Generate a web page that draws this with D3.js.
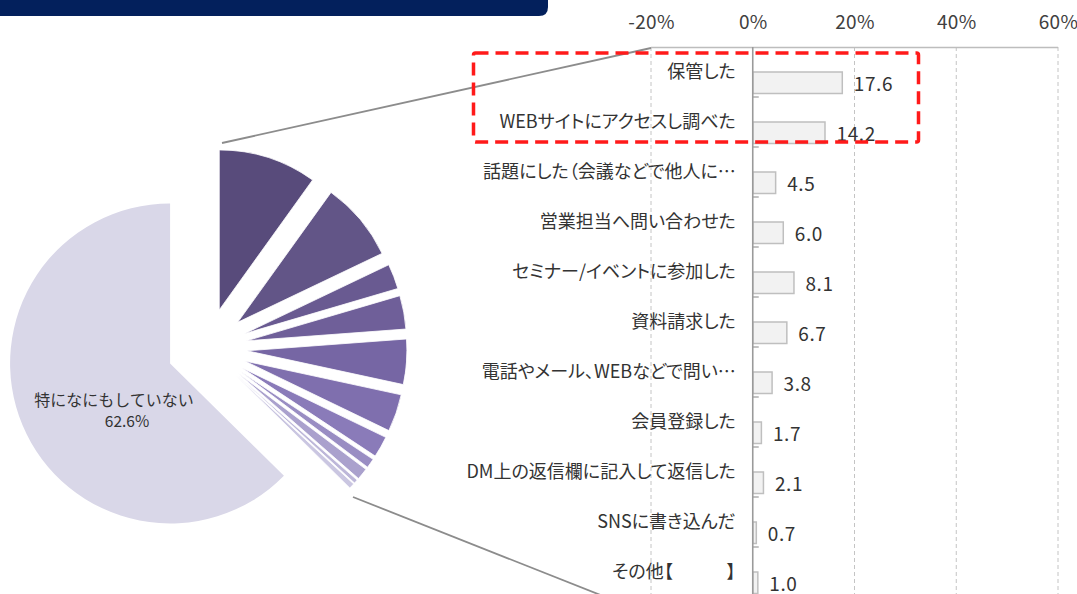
<!DOCTYPE html>
<html><head><meta charset="utf-8">
<script src="https://cdn.jsdelivr.net/npm/d3@7"></script>
<style>
html,body{margin:0;padding:0;background:#fff;}
svg{display:block;font-family:"Noto Sans CJK JP","Noto Sans",sans-serif;}
</style></head>
<body>
<svg id="chart" width="1077" height="594"></svg>
<script>
// ---- data ----
const categories = ["保管した","WEBサイトにアクセスし調べた","話題にした（会議などで他人に…","営業担当へ問い合わせた","セミナー/イベントに参加した","資料請求した","電話やメール、WEBなどで問い…","会員登録した","DM上の返信欄に記入して返信した","SNSに書き込んだ","その他【　　　】"];
const values = [17.6,14.2,4.5,6.0,8.1,6.7,3.8,1.7,2.1,0.7,1.0];
const noneLabel = "特になにもしていない";
const noneValue = 62.6;
const xTicks = [-20,0,20,40,60];
const sliceColors = ["#584b7b","#625587","#695a91","#6f5f99","#7666a4","#7f6fae","#8a7bb9","#998dc3","#aaa1cd","#bdb7d9","#cac6e1"];
const noneColor = "#d9d7e8";

const svg = d3.select("#chart");

// header band
svg.append("path")
  .attr("d","M0,-10 H548 V7 Q548,16 539,16 H0 Z")
  .attr("fill","#03205c");

// ---- bar chart ----
const x = d3.scaleLinear().domain([-20,60]).range([651,1058]);
const y = d3.scaleBand().domain(categories).range([47,597]).paddingInner(0).paddingOuter(0);

// gridlines
svg.append("g").selectAll("line").data(xTicks.filter(d=>d!==0)).join("line")
  .attr("x1",d=>x(d)).attr("x2",d=>x(d)).attr("y1",47).attr("y2",600)
  .attr("stroke","#c4c4c4").attr("stroke-width",1).attr("stroke-dasharray","4,3");
// top border
svg.append("line").attr("x1",x(-20)).attr("x2",x(60)).attr("y1",47.5).attr("y2",47.5)
  .attr("stroke","#bdbdbd").attr("stroke-width",1.5);

// top axis tick labels
const xAxis = svg.append("g").attr("transform","translate(0,47)")
  .call(d3.axisTop(x).tickValues(xTicks).tickSize(0).tickPadding(18).tickFormat(d=>d+"%"));
xAxis.select(".domain").remove();
xAxis.selectAll("text").attr("font-size",19).attr("letter-spacing","0.3px").attr("fill","#404040")
  .attr("font-family","'Noto Sans CJK JP','Noto Sans',sans-serif");

// bars
const barOff = 25, barH = 21.5;
svg.append("g").selectAll("rect").data(values).join("rect")
  .attr("x",x(0)).attr("y",(d,i)=>y(categories[i])+barOff)
  .attr("width",d=>x(d)-x(0)).attr("height",barH)
  .attr("fill","#f2f2f2").attr("stroke","#bfbfbf").attr("stroke-width",1.5);

// category axis (0% line)
const yAxis = svg.append("g").attr("transform",`translate(${x(0)},0)`)
  .call(d3.axisLeft(y).tickSize(0).tickSizeOuter(0).tickPadding(17));
yAxis.select(".domain").attr("stroke","#9a9a9a").attr("stroke-width",1.6).attr("d",`M0,47V600`);
yAxis.selectAll("text").attr("font-size",18).attr("fill","#333")
  .style("font-feature-settings","'palt' 1")
  .attr("font-family","'Noto Sans CJK JP',sans-serif");

// category tick marks
svg.append("g").selectAll("line").data(categories).join("line")
  .attr("x1",x(0)).attr("x2",x(0)+6)
  .attr("y1",d=>y(d)+y.bandwidth()).attr("y2",d=>y(d)+y.bandwidth())
  .attr("stroke","#9a9a9a").attr("stroke-width",1.2);

// value labels
svg.append("g").selectAll("text").data(values).join("text")
  .attr("x",d=>x(d)+11.5).attr("y",(d,i)=>y(categories[i])+barOff+barH/2+1)
  .attr("dy","0.36em").attr("font-size",19).attr("letter-spacing","0.6px").attr("fill","#333")
  .attr("font-family","'Noto Sans CJK JP',sans-serif")
  .text(d=>d.toFixed(1));

// ---- pie ----
const cx = 207, cy = 348, R = 160, explode = 40;
const sum = d3.sum(values);
const pieData = values.map((v,i)=>({v: v*(100-noneValue)/sum, color: sliceColors[i]}))
  .concat([{v: noneValue, color: noneColor, none:true}]);
const arcs = d3.pie().sort(null).value(d=>d.v).startAngle(0).endAngle(2*Math.PI)(pieData);
const arc = d3.arc().innerRadius(0).outerRadius(R);
const pg = svg.append("g").attr("transform",`translate(${cx},${cy})`);
pg.selectAll("path").data(arcs).join("path")
  .attr("transform",d=>{const m=(d.startAngle+d.endAngle)/2; return `translate(${Math.sin(m)*explode},${-Math.cos(m)*explode})`;})
  .attr("d",arc).attr("fill",d=>d.data.color)
  .attr("stroke","#fff").attr("stroke-width",d=>d.data.none?0:0.8);

// pie label
svg.append("text").attr("x",114).attr("y",400).attr("dy","0.35em").attr("text-anchor","middle")
  .attr("font-size",16).attr("fill","#333").text(noneLabel);
svg.append("text").attr("x",127).attr("y",422).attr("dy","0.35em").attr("text-anchor","middle")
  .attr("font-size",15.5).attr("fill","#333").text(noneValue.toFixed(1)+"%");

// connector lines
svg.append("line").attr("x1",222).attr("y1",143).attr("x2",x(-20)).attr("y2",48)
  .attr("stroke","#8c8c8c").attr("stroke-width",1.8);
svg.append("line").attr("x1",353).attr("y1",497).attr("x2",x(-20)).attr("y2",615)
  .attr("stroke","#8c8c8c").attr("stroke-width",1.8);

// red dashed highlight box
svg.append("rect").attr("x",473.5).attr("y",53).attr("width",445).attr("height",89)
  .attr("fill","none").attr("stroke","#ff1a1a").attr("stroke-width",3.5)
  .attr("stroke-dasharray","13,7").attr("rx",2);
</script>
</body></html>
